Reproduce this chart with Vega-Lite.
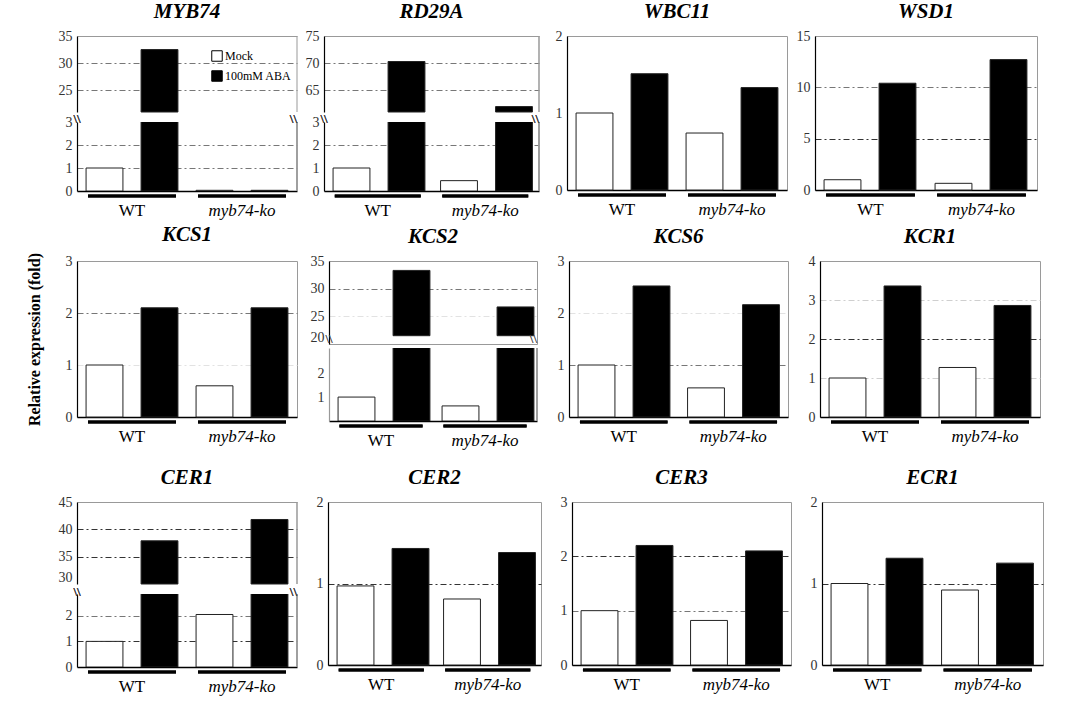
{
  "$schema": "https://vega.github.io/schema/vega-lite/v6.json",
  "background": "white",
  "padding": {"left": 25, "top": 0, "right": 5, "bottom": 5},
  "datasets": {
    "expr": [
      {"gene": "MYB74", "genotype": "WT", "treatment": "Mock", "value": 1.0},
      {"gene": "MYB74", "genotype": "WT", "treatment": "100mM ABA", "value": 32.5},
      {"gene": "MYB74", "genotype": "myb74-ko", "treatment": "Mock", "value": 0.03},
      {"gene": "MYB74", "genotype": "myb74-ko", "treatment": "100mM ABA", "value": 0.03},
      {"gene": "RD29A", "genotype": "WT", "treatment": "Mock", "value": 1.0},
      {"gene": "RD29A", "genotype": "WT", "treatment": "100mM ABA", "value": 70.3},
      {"gene": "RD29A", "genotype": "myb74-ko", "treatment": "Mock", "value": 0.45},
      {"gene": "RD29A", "genotype": "myb74-ko", "treatment": "100mM ABA", "value": 62.0},
      {"gene": "WBC11", "genotype": "WT", "treatment": "Mock", "value": 1.0},
      {"gene": "WBC11", "genotype": "WT", "treatment": "100mM ABA", "value": 1.51},
      {"gene": "WBC11", "genotype": "myb74-ko", "treatment": "Mock", "value": 0.74},
      {"gene": "WBC11", "genotype": "myb74-ko", "treatment": "100mM ABA", "value": 1.33},
      {"gene": "WSD1", "genotype": "WT", "treatment": "Mock", "value": 1.0},
      {"gene": "WSD1", "genotype": "WT", "treatment": "100mM ABA", "value": 10.4},
      {"gene": "WSD1", "genotype": "myb74-ko", "treatment": "Mock", "value": 0.65},
      {"gene": "WSD1", "genotype": "myb74-ko", "treatment": "100mM ABA", "value": 12.7},
      {"gene": "KCS1", "genotype": "WT", "treatment": "Mock", "value": 1.0},
      {"gene": "KCS1", "genotype": "WT", "treatment": "100mM ABA", "value": 2.1},
      {"gene": "KCS1", "genotype": "myb74-ko", "treatment": "Mock", "value": 0.6},
      {"gene": "KCS1", "genotype": "myb74-ko", "treatment": "100mM ABA", "value": 2.1},
      {"gene": "KCS2", "genotype": "WT", "treatment": "Mock", "value": 1.0},
      {"gene": "KCS2", "genotype": "WT", "treatment": "100mM ABA", "value": 33.3},
      {"gene": "KCS2", "genotype": "myb74-ko", "treatment": "Mock", "value": 0.63},
      {"gene": "KCS2", "genotype": "myb74-ko", "treatment": "100mM ABA", "value": 26.7},
      {"gene": "KCS6", "genotype": "WT", "treatment": "Mock", "value": 1.0},
      {"gene": "KCS6", "genotype": "WT", "treatment": "100mM ABA", "value": 2.52},
      {"gene": "KCS6", "genotype": "myb74-ko", "treatment": "Mock", "value": 0.56},
      {"gene": "KCS6", "genotype": "myb74-ko", "treatment": "100mM ABA", "value": 2.16},
      {"gene": "KCR1", "genotype": "WT", "treatment": "Mock", "value": 1.0},
      {"gene": "KCR1", "genotype": "WT", "treatment": "100mM ABA", "value": 3.36},
      {"gene": "KCR1", "genotype": "myb74-ko", "treatment": "Mock", "value": 1.27},
      {"gene": "KCR1", "genotype": "myb74-ko", "treatment": "100mM ABA", "value": 2.86},
      {"gene": "CER1", "genotype": "WT", "treatment": "Mock", "value": 1.0},
      {"gene": "CER1", "genotype": "WT", "treatment": "100mM ABA", "value": 37.9},
      {"gene": "CER1", "genotype": "myb74-ko", "treatment": "Mock", "value": 2.05},
      {"gene": "CER1", "genotype": "myb74-ko", "treatment": "100mM ABA", "value": 41.8},
      {"gene": "CER2", "genotype": "WT", "treatment": "Mock", "value": 0.97},
      {"gene": "CER2", "genotype": "WT", "treatment": "100mM ABA", "value": 1.43},
      {"gene": "CER2", "genotype": "myb74-ko", "treatment": "Mock", "value": 0.81},
      {"gene": "CER2", "genotype": "myb74-ko", "treatment": "100mM ABA", "value": 1.38},
      {"gene": "CER3", "genotype": "WT", "treatment": "Mock", "value": 1.0},
      {"gene": "CER3", "genotype": "WT", "treatment": "100mM ABA", "value": 2.2},
      {"gene": "CER3", "genotype": "myb74-ko", "treatment": "Mock", "value": 0.82},
      {"gene": "CER3", "genotype": "myb74-ko", "treatment": "100mM ABA", "value": 2.1},
      {"gene": "ECR1", "genotype": "WT", "treatment": "Mock", "value": 1.0},
      {"gene": "ECR1", "genotype": "WT", "treatment": "100mM ABA", "value": 1.31},
      {"gene": "ECR1", "genotype": "myb74-ko", "treatment": "Mock", "value": 0.92},
      {"gene": "ECR1", "genotype": "myb74-ko", "treatment": "100mM ABA", "value": 1.25}
    ]
  },
  "spacing": 5,
  "resolve": {"scale": {"fill": "independent"}, "legend": {"fill": "independent"}},
  "vconcat": [
    {
      "spacing": 2,
      "resolve": {"scale": {"fill": "independent"}, "legend": {"fill": "independent"}},
      "hconcat": [
        {
          "spacing": 0,
          "resolve": {"scale": {"fill": "independent"}, "legend": {"fill": "independent"}},
          "vconcat": [
            {
              "title": "MYB74", "width": 220, "height": 76, "view": {"stroke": null},
              "data": {"name": "expr"},
              "transform": [{"filter": "datum.gene == 'MYB74' && datum.value > 21"}],
              "encoding": {"x": {"field": "genotype", "type": "nominal", "scale": {"domain": ["WT", "myb74-ko"], "paddingInner": 0, "paddingOuter": 0}, "axis": {"orient": "top", "title": null, "labels": false, "domainColor": "#999", "domainWidth": 1}}},
              "layer": [
                {"mark": {"type": "bar", "stroke": "#222", "strokeWidth": 1},
                 "encoding": {
                   "xOffset": {"field": "treatment", "type": "nominal", "scale": {"domain": ["Mock", "100mM ABA"], "paddingInner": 0.33, "paddingOuter": 0.165}},
                   "y": {"field": "value", "type": "quantitative", "scale": {"domain": [21, 35], "nice": false, "zero": false}, "axis": {"title": " ", "values": [25, 30, 35], "grid": true, "gridColor": "#777", "gridOpacity": {"condition": {"test": "datum.value == 35", "value": 0}, "value": 1}}},
                   "y2": {"datum": 21},
                   "fill": {"field": "treatment", "type": "nominal", "scale": {"domain": ["Mock", "100mM ABA"], "range": ["white", "black"]}, "legend": {"orient": "none", "legendX": 134, "legendY": 14, "title": null, "labelFontSize": 12, "labelFont": "Liberation Serif", "labelColor": "black", "symbolType": "square", "symbolSize": 110, "symbolStrokeColor": "black", "symbolStrokeWidth": 1, "rowPadding": 4, "labelOffset": 2}}
                 }},
                {"mark": {"type": "rule", "color": "#999", "strokeWidth": 1}, "encoding": {"x": {"datum": "myb74-ko", "type": "nominal", "bandPosition": 1}, "y": {"datum": 21}, "y2": {"datum": 35}}}
              ]
            },
            {
              "width": 220, "height": 69, "view": {"stroke": null},
              "data": {"name": "expr"},
              "transform": [{"filter": "datum.gene == 'MYB74'"}],
              "encoding": {"x": {"field": "genotype", "type": "nominal", "scale": {"domain": ["WT", "myb74-ko"], "paddingInner": 0, "paddingOuter": 0}, "axis": {"title": null, "labelFontStyle": {"condition": {"test": "datum.value == 'myb74-ko'", "value": "italic"}, "value": "normal"}}}},
              "layer": [
                {"mark": {"type": "bar", "stroke": "#222", "strokeWidth": 1, "clip": true},
                 "encoding": {
                   "xOffset": {"field": "treatment", "type": "nominal", "scale": {"domain": ["Mock", "100mM ABA"], "paddingInner": 0.33, "paddingOuter": 0.165}},
                   "y": {"field": "value", "type": "quantitative", "scale": {"domain": [0, 3], "nice": false}, "axis": {"title": " ", "values": [0, 1, 2, 3], "grid": true, "gridColor": "#777", "gridOpacity": {"condition": {"test": "datum.value == 0 || datum.value == 3", "value": 0}, "value": 1}}},
                   "fill": {"condition": {"test": "datum.treatment == 'Mock'", "value": "white"}, "value": "black"}
                 }},
                {"mark": {"type": "bar", "color": "black", "width": {"band": 0.8}}, "encoding": {"y": {"datum": -0.15}, "y2": {"datum": -0.28}}},
                {"mark": {"type": "rule", "color": "#999", "strokeWidth": 1}, "encoding": {"x": {"datum": "myb74-ko", "type": "nominal", "bandPosition": 1}, "y": {"datum": 0}, "y2": {"datum": 3}}},
                {"mark": {"type": "text", "text": "\\\\", "fontSize": 13, "color": "#444", "baseline": "middle", "align": "center"}, "encoding": {"x": {"datum": "WT", "type": "nominal", "bandPosition": 0}, "y": {"datum": 3.12}}},
                {"mark": {"type": "text", "text": "\\\\", "fontSize": 13, "color": "#444", "baseline": "middle", "align": "right"}, "encoding": {"x": {"datum": "myb74-ko", "type": "nominal", "bandPosition": 1}, "y": {"datum": 3.12}}}
              ]
            }
          ]
        },
        {
          "spacing": 0,
          "vconcat": [
            {
              "title": "RD29A", "width": 215, "height": 76, "view": {"stroke": null},
              "data": {"name": "expr"},
              "transform": [{"filter": "datum.gene == 'RD29A' && datum.value > 61"}],
              "encoding": {"x": {"field": "genotype", "type": "nominal", "scale": {"domain": ["WT", "myb74-ko"], "paddingInner": 0, "paddingOuter": 0}, "axis": {"orient": "top", "title": null, "labels": false, "domainColor": "#999", "domainWidth": 1}}},
              "layer": [
                {"mark": {"type": "bar", "stroke": "#222", "strokeWidth": 1},
                 "encoding": {
                   "xOffset": {"field": "treatment", "type": "nominal", "scale": {"domain": ["Mock", "100mM ABA"], "paddingInner": 0.33, "paddingOuter": 0.165}},
                   "y": {"field": "value", "type": "quantitative", "scale": {"domain": [61, 75], "nice": false, "zero": false}, "axis": {"title": null, "values": [65, 70, 75], "grid": true, "gridColor": "#777", "gridOpacity": {"condition": {"test": "datum.value == 75", "value": 0}, "value": 1}}},
                   "y2": {"datum": 61},
                   "fill": {"condition": {"test": "datum.treatment == 'Mock'", "value": "white"}, "value": "black"}
                 }},
                {"mark": {"type": "rule", "color": "#999", "strokeWidth": 1}, "encoding": {"x": {"datum": "myb74-ko", "type": "nominal", "bandPosition": 1}, "y": {"datum": 61}, "y2": {"datum": 75}}}
              ]
            },
            {
              "width": 215, "height": 69, "view": {"stroke": null},
              "data": {"name": "expr"},
              "transform": [{"filter": "datum.gene == 'RD29A'"}],
              "encoding": {"x": {"field": "genotype", "type": "nominal", "scale": {"domain": ["WT", "myb74-ko"], "paddingInner": 0, "paddingOuter": 0}, "axis": {"title": null, "labelFontStyle": {"condition": {"test": "datum.value == 'myb74-ko'", "value": "italic"}, "value": "normal"}}}},
              "layer": [
                {"mark": {"type": "bar", "stroke": "#222", "strokeWidth": 1, "clip": true},
                 "encoding": {
                   "xOffset": {"field": "treatment", "type": "nominal", "scale": {"domain": ["Mock", "100mM ABA"], "paddingInner": 0.33, "paddingOuter": 0.165}},
                   "y": {"field": "value", "type": "quantitative", "scale": {"domain": [0, 3], "nice": false}, "axis": {"title": null, "values": [0, 1, 2, 3], "grid": true, "gridColor": "#777", "gridOpacity": {"condition": {"test": "datum.value != 2", "value": 0}, "value": 1}}},
                   "fill": {"condition": {"test": "datum.treatment == 'Mock'", "value": "white"}, "value": "black"}
                 }},
                {"mark": {"type": "bar", "color": "black", "width": {"band": 0.8}}, "encoding": {"y": {"datum": -0.15}, "y2": {"datum": -0.28}}},
                {"mark": {"type": "rule", "color": "#999", "strokeWidth": 1}, "encoding": {"x": {"datum": "myb74-ko", "type": "nominal", "bandPosition": 1}, "y": {"datum": 0}, "y2": {"datum": 3}}},
                {"mark": {"type": "text", "text": "\\\\", "fontSize": 13, "color": "#444", "baseline": "middle", "align": "center"}, "encoding": {"x": {"datum": "WT", "type": "nominal", "bandPosition": 0}, "y": {"datum": 3.12}}},
                {"mark": {"type": "text", "text": "\\\\", "fontSize": 13, "color": "#444", "baseline": "middle", "align": "right"}, "encoding": {"x": {"datum": "myb74-ko", "type": "nominal", "bandPosition": 1}, "y": {"datum": 3.12}}}
              ]
            }
          ]
        },
        {
          "vconcat": [{
            "title": "WBC11", "width": 220, "height": 154,
            "data": {"name": "expr"},
            "transform": [{"filter": "datum.gene == 'WBC11'"}],
            "encoding": {"x": {"field": "genotype", "type": "nominal", "scale": {"domain": ["WT", "myb74-ko"], "paddingInner": 0, "paddingOuter": 0}, "axis": {"title": null, "labelFontStyle": {"condition": {"test": "datum.value == 'myb74-ko'", "value": "italic"}, "value": "normal"}}}},
            "layer": [
              {"mark": {"type": "bar", "stroke": "#222", "strokeWidth": 1},
               "encoding": {
                 "xOffset": {"field": "treatment", "type": "nominal", "scale": {"domain": ["Mock", "100mM ABA"], "paddingInner": 0.33, "paddingOuter": 0.165}},
                 "y": {"field": "value", "type": "quantitative", "scale": {"domain": [0, 2], "nice": false}, "axis": {"title": null, "values": [0, 1, 2], "tickCount": 5}},
                 "fill": {"condition": {"test": "datum.treatment == 'Mock'", "value": "white"}, "value": "black"}
               }},
              {"mark": {"type": "bar", "color": "black", "width": {"band": 0.8}}, "encoding": {"y": {"datum": -0.045}, "y2": {"datum": -0.084}}}
            ]
          }]
        },
        {
          "vconcat": [{
            "title": "WSD1", "width": 222, "height": 154,
            "data": {"name": "expr"},
            "transform": [{"filter": "datum.gene == 'WSD1'"}],
            "encoding": {"x": {"field": "genotype", "type": "nominal", "scale": {"domain": ["WT", "myb74-ko"], "paddingInner": 0, "paddingOuter": 0}, "axis": {"title": null, "labelFontStyle": {"condition": {"test": "datum.value == 'myb74-ko'", "value": "italic"}, "value": "normal"}}}},
            "layer": [
              {"mark": {"type": "bar", "stroke": "#222", "strokeWidth": 1},
               "encoding": {
                 "xOffset": {"field": "treatment", "type": "nominal", "scale": {"domain": ["Mock", "100mM ABA"], "paddingInner": 0.33, "paddingOuter": 0.165}},
                 "y": {"field": "value", "type": "quantitative", "scale": {"domain": [0, 15], "nice": false}, "axis": {"title": null, "values": [0, 5, 10, 15], "grid": true, "gridColor": {"condition": {"test": "datum.value == 5", "value": "#333"}, "value": "#777"}, "gridOpacity": {"condition": {"test": "datum.value == 0 || datum.value == 15", "value": 0}, "value": 1}}},
                 "fill": {"condition": {"test": "datum.treatment == 'Mock'", "value": "white"}, "value": "black"}
               }},
              {"mark": {"type": "bar", "color": "black", "width": {"band": 0.8}}, "encoding": {"y": {"datum": -0.34}, "y2": {"datum": -0.63}}}
            ]
          }]
        }
      ]
    },
    {
      "spacing": 18,
      "vconcat": [
        {
          "spacing": 6,
          "hconcat": [
            {
              "vconcat": [{
                "title": "KCS1", "width": 220, "height": 156,
                "data": {"name": "expr"},
                "transform": [{"filter": "datum.gene == 'KCS1'"}],
                "encoding": {"x": {"field": "genotype", "type": "nominal", "scale": {"domain": ["WT", "myb74-ko"], "paddingInner": 0, "paddingOuter": 0}, "axis": {"title": null, "labelFontStyle": {"condition": {"test": "datum.value == 'myb74-ko'", "value": "italic"}, "value": "normal"}}}},
                "layer": [
                  {"mark": {"type": "bar", "stroke": "#222", "strokeWidth": 1},
                   "encoding": {
                     "xOffset": {"field": "treatment", "type": "nominal", "scale": {"domain": ["Mock", "100mM ABA"], "paddingInner": 0.33, "paddingOuter": 0.165}},
                     "y": {"field": "value", "type": "quantitative", "scale": {"domain": [0, 3], "nice": false}, "axis": {"title": "Relative expression (fold)", "values": [0, 1, 2, 3], "grid": true, "gridColor": {"condition": {"test": "datum.value == 1", "value": "#e2e2e2"}, "value": "#777"}, "gridOpacity": {"condition": {"test": "datum.value == 0 || datum.value == 3", "value": 0}, "value": 1}}},
                     "fill": {"condition": {"test": "datum.treatment == 'Mock'", "value": "white"}, "value": "black"}
                   }},
                  {"mark": {"type": "bar", "color": "black", "width": {"band": 0.8}}, "encoding": {"y": {"datum": -0.067}, "y2": {"datum": -0.125}}}
                ]
              }]
            },
            {
              "spacing": 0,
              "vconcat": [
                {
                  "title": "KCS2", "width": 208, "height": 83, "view": {"stroke": "#999"},
                  "data": {"name": "expr"},
                  "transform": [{"filter": "datum.gene == 'KCS2' && datum.value > 21.5"}],
                  "encoding": {"x": {"field": "genotype", "type": "nominal", "scale": {"domain": ["WT", "myb74-ko"], "paddingInner": 0, "paddingOuter": 0}, "axis": null}},
                  "layer": [
                    {"mark": {"type": "bar", "stroke": "#222", "strokeWidth": 1},
                     "encoding": {
                       "xOffset": {"field": "treatment", "type": "nominal", "scale": {"domain": ["Mock", "100mM ABA"], "paddingInner": 0.33, "paddingOuter": 0.165}},
                       "y": {"field": "value", "type": "quantitative", "scale": {"domain": [20, 35], "nice": false, "zero": false}, "axis": {"title": null, "values": [20, 25, 30, 35], "labelBaseline": {"condition": {"test": "datum.value == 20", "value": "bottom"}, "value": "middle"}, "grid": true, "gridColor": {"condition": {"test": "datum.value == 25", "value": "#e2e2e2"}, "value": "#777"}, "gridOpacity": {"condition": {"test": "datum.value == 20 || datum.value == 35", "value": 0}, "value": 1}}},
                       "y2": {"datum": 21.5},
                       "fill": {"condition": {"test": "datum.treatment == 'Mock'", "value": "white"}, "value": "black"}
                     }},
                    {"mark": {"type": "text", "text": "\\\\", "fontSize": 13, "color": "#444", "baseline": "middle", "align": "center"}, "encoding": {"x": {"datum": "WT", "type": "nominal", "bandPosition": 0}, "y": {"datum": 20.9}}},
                    {"mark": {"type": "text", "text": "\\\\", "fontSize": 13, "color": "#444", "baseline": "middle", "align": "right"}, "encoding": {"x": {"datum": "myb74-ko", "type": "nominal", "bandPosition": 1}, "y": {"datum": 20.9}}}
                  ]
                },
                {
                  "width": 208, "height": 73, "view": {"stroke": null},
                  "data": {"name": "expr"},
                  "transform": [{"filter": "datum.gene == 'KCS2'"}],
                  "encoding": {"x": {"field": "genotype", "type": "nominal", "scale": {"domain": ["WT", "myb74-ko"], "paddingInner": 0, "paddingOuter": 0}, "axis": {"title": null, "labelFontStyle": {"condition": {"test": "datum.value == 'myb74-ko'", "value": "italic"}, "value": "normal"}}}},
                  "layer": [
                    {"mark": {"type": "bar", "stroke": "#222", "strokeWidth": 1, "clip": true},
                     "encoding": {
                       "xOffset": {"field": "treatment", "type": "nominal", "scale": {"domain": ["Mock", "100mM ABA"], "paddingInner": 0.33, "paddingOuter": 0.165}},
                       "y": {"field": "value", "type": "quantitative", "scale": {"domain": [0, 3.05], "nice": false}, "axis": {"title": null, "values": [1, 2], "domainColor": "#999"}},
                       "fill": {"condition": {"test": "datum.treatment == 'Mock'", "value": "white"}, "value": "black"}
                     }},
                    {"mark": {"type": "bar", "color": "black", "width": {"band": 0.8}}, "encoding": {"y": {"datum": -0.146}, "y2": {"datum": -0.272}}},
                    {"mark": {"type": "rule", "color": "#999", "strokeWidth": 1}, "encoding": {"x": {"datum": "myb74-ko", "type": "nominal", "bandPosition": 1}, "y": {"datum": 0}, "y2": {"datum": 3.05}}}
                  ]
                }
              ]
            },
            {
              "vconcat": [{
                "title": "KCS6", "width": 219, "height": 156,
                "data": {"name": "expr"},
                "transform": [{"filter": "datum.gene == 'KCS6'"}],
                "encoding": {"x": {"field": "genotype", "type": "nominal", "scale": {"domain": ["WT", "myb74-ko"], "paddingInner": 0, "paddingOuter": 0}, "axis": {"title": null, "labelFontStyle": {"condition": {"test": "datum.value == 'myb74-ko'", "value": "italic"}, "value": "normal"}}}},
                "layer": [
                  {"mark": {"type": "bar", "stroke": "#222", "strokeWidth": 1},
                   "encoding": {
                     "xOffset": {"field": "treatment", "type": "nominal", "scale": {"domain": ["Mock", "100mM ABA"], "paddingInner": 0.33, "paddingOuter": 0.165}},
                     "y": {"field": "value", "type": "quantitative", "scale": {"domain": [0, 3], "nice": false}, "axis": {"title": null, "values": [0, 1, 2, 3], "grid": true, "gridColor": {"condition": {"test": "datum.value == 2", "value": "#e2e2e2"}, "value": "#777"}, "gridOpacity": {"condition": {"test": "datum.value == 0 || datum.value == 3", "value": 0}, "value": 1}}},
                     "fill": {"condition": {"test": "datum.treatment == 'Mock'", "value": "white"}, "value": "black"}
                   }},
                  {"mark": {"type": "bar", "color": "black", "width": {"band": 0.8}}, "encoding": {"y": {"datum": -0.067}, "y2": {"datum": -0.125}}}
                ]
              }]
            },
            {
              "vconcat": [{
                "title": "KCR1", "width": 220, "height": 156,
                "data": {"name": "expr"},
                "transform": [{"filter": "datum.gene == 'KCR1'"}],
                "encoding": {"x": {"field": "genotype", "type": "nominal", "scale": {"domain": ["WT", "myb74-ko"], "paddingInner": 0, "paddingOuter": 0}, "axis": {"title": null, "labelFontStyle": {"condition": {"test": "datum.value == 'myb74-ko'", "value": "italic"}, "value": "normal"}}}},
                "layer": [
                  {"mark": {"type": "bar", "stroke": "#222", "strokeWidth": 1},
                   "encoding": {
                     "xOffset": {"field": "treatment", "type": "nominal", "scale": {"domain": ["Mock", "100mM ABA"], "paddingInner": 0.33, "paddingOuter": 0.165}},
                     "y": {"field": "value", "type": "quantitative", "scale": {"domain": [0, 4], "nice": false}, "axis": {"title": null, "values": [0, 1, 2, 3, 4], "grid": true, "gridColor": {"condition": {"test": "datum.value == 2", "value": "#333"}, "value": "#cfcfcf"}, "gridOpacity": {"condition": {"test": "datum.value == 0 || datum.value == 4", "value": 0}, "value": 1}}},
                     "fill": {"condition": {"test": "datum.treatment == 'Mock'", "value": "white"}, "value": "black"}
                   }},
                  {"mark": {"type": "bar", "color": "black", "width": {"band": 0.8}}, "encoding": {"y": {"datum": -0.09}, "y2": {"datum": -0.167}}}
                ]
              }]
            }
          ]
        },
        {
          "spacing": 5,
          "hconcat": [
            {
              "spacing": 0,
              "vconcat": [
                {
                  "title": "CER1", "width": 220, "height": 82, "view": {"stroke": null},
                  "data": {"name": "expr"},
                  "transform": [{"filter": "datum.gene == 'CER1' && datum.value > 30"}],
                  "encoding": {"x": {"field": "genotype", "type": "nominal", "scale": {"domain": ["WT", "myb74-ko"], "paddingInner": 0, "paddingOuter": 0}, "axis": {"orient": "top", "title": null, "labels": false, "domainColor": "#999", "domainWidth": 1}}},
                  "layer": [
                    {"mark": {"type": "bar", "stroke": "#222", "strokeWidth": 1},
                     "encoding": {
                       "xOffset": {"field": "treatment", "type": "nominal", "scale": {"domain": ["Mock", "100mM ABA"], "paddingInner": 0.33, "paddingOuter": 0.165}},
                       "y": {"field": "value", "type": "quantitative", "scale": {"domain": [30, 45], "nice": false, "zero": false}, "axis": {"title": " ", "values": [30, 35, 40, 45], "labelBaseline": {"condition": {"test": "datum.value == 30", "value": "bottom"}, "value": "middle"}, "grid": true, "gridColor": "#333", "gridOpacity": {"condition": {"test": "datum.value == 30 || datum.value == 45", "value": 0}, "value": 1}}},
                       "y2": {"datum": 30},
                       "fill": {"condition": {"test": "datum.treatment == 'Mock'", "value": "white"}, "value": "black"}
                     }},
                    {"mark": {"type": "rule", "color": "#999", "strokeWidth": 1}, "encoding": {"x": {"datum": "myb74-ko", "type": "nominal", "bandPosition": 1}, "y": {"datum": 30}, "y2": {"datum": 45}}}
                  ]
                },
                {
                  "width": 220, "height": 73, "view": {"stroke": null},
                  "data": {"name": "expr"},
                  "transform": [{"filter": "datum.gene == 'CER1'"}],
                  "encoding": {"x": {"field": "genotype", "type": "nominal", "scale": {"domain": ["WT", "myb74-ko"], "paddingInner": 0, "paddingOuter": 0}, "axis": {"title": null, "labelFontStyle": {"condition": {"test": "datum.value == 'myb74-ko'", "value": "italic"}, "value": "normal"}}}},
                  "layer": [
                    {"mark": {"type": "bar", "stroke": "#222", "strokeWidth": 1, "clip": true},
                     "encoding": {
                       "xOffset": {"field": "treatment", "type": "nominal", "scale": {"domain": ["Mock", "100mM ABA"], "paddingInner": 0.33, "paddingOuter": 0.165}},
                       "y": {"field": "value", "type": "quantitative", "scale": {"domain": [0, 2.85], "nice": false}, "axis": {"title": " ", "values": [0, 1, 2], "grid": true, "gridColor": {"condition": {"test": "datum.value == 1", "value": "#333"}, "value": "#777"}, "gridOpacity": {"condition": {"test": "datum.value == 0", "value": 0}, "value": 1}}},
                       "fill": {"condition": {"test": "datum.treatment == 'Mock'", "value": "white"}, "value": "black"}
                     }},
                    {"mark": {"type": "bar", "color": "black", "width": {"band": 0.8}}, "encoding": {"y": {"datum": -0.137}, "y2": {"datum": -0.254}}},
                    {"mark": {"type": "rule", "color": "#999", "strokeWidth": 1}, "encoding": {"x": {"datum": "myb74-ko", "type": "nominal", "bandPosition": 1}, "y": {"datum": 0}, "y2": {"datum": 2.85}}},
                    {"mark": {"type": "text", "text": "\\\\", "fontSize": 13, "color": "#444", "baseline": "middle", "align": "center"}, "encoding": {"x": {"datum": "WT", "type": "nominal", "bandPosition": 0}, "y": {"datum": 2.93}}},
                    {"mark": {"type": "text", "text": "\\\\", "fontSize": 13, "color": "#444", "baseline": "middle", "align": "right"}, "encoding": {"x": {"datum": "myb74-ko", "type": "nominal", "bandPosition": 1}, "y": {"datum": 2.93}}}
                  ]
                }
              ]
            },
            {
              "vconcat": [{
                "title": "CER2", "width": 213, "height": 163,
                "data": {"name": "expr"},
                "transform": [{"filter": "datum.gene == 'CER2'"}],
                "encoding": {"x": {"field": "genotype", "type": "nominal", "scale": {"domain": ["WT", "myb74-ko"], "paddingInner": 0, "paddingOuter": 0}, "axis": {"title": null, "labelFontStyle": {"condition": {"test": "datum.value == 'myb74-ko'", "value": "italic"}, "value": "normal"}}}},
                "layer": [
                  {"mark": {"type": "bar", "stroke": "#222", "strokeWidth": 1},
                   "encoding": {
                     "xOffset": {"field": "treatment", "type": "nominal", "scale": {"domain": ["Mock", "100mM ABA"], "paddingInner": 0.33, "paddingOuter": 0.165}},
                     "y": {"field": "value", "type": "quantitative", "scale": {"domain": [0, 2], "nice": false}, "axis": {"title": null, "values": [0, 1, 2], "tickCount": 5, "grid": true, "gridColor": "#333", "gridOpacity": {"condition": {"test": "datum.value != 1", "value": 0}, "value": 1}}},
                     "fill": {"condition": {"test": "datum.treatment == 'Mock'", "value": "white"}, "value": "black"}
                   }},
                  {"mark": {"type": "bar", "color": "black", "width": {"band": 0.8}}, "encoding": {"y": {"datum": -0.043}, "y2": {"datum": -0.08}}}
                ]
              }]
            },
            {
              "vconcat": [{
                "title": "CER3", "width": 219, "height": 163,
                "data": {"name": "expr"},
                "transform": [{"filter": "datum.gene == 'CER3'"}],
                "encoding": {"x": {"field": "genotype", "type": "nominal", "scale": {"domain": ["WT", "myb74-ko"], "paddingInner": 0, "paddingOuter": 0}, "axis": {"title": null, "labelFontStyle": {"condition": {"test": "datum.value == 'myb74-ko'", "value": "italic"}, "value": "normal"}}}},
                "layer": [
                  {"mark": {"type": "bar", "stroke": "#222", "strokeWidth": 1},
                   "encoding": {
                     "xOffset": {"field": "treatment", "type": "nominal", "scale": {"domain": ["Mock", "100mM ABA"], "paddingInner": 0.33, "paddingOuter": 0.165}},
                     "y": {"field": "value", "type": "quantitative", "scale": {"domain": [0, 3], "nice": false}, "axis": {"title": null, "values": [0, 1, 2, 3], "grid": true, "gridColor": {"condition": {"test": "datum.value == 2", "value": "#333"}, "value": "#777"}, "gridOpacity": {"condition": {"test": "datum.value == 0 || datum.value == 3", "value": 0}, "value": 1}}},
                     "fill": {"condition": {"test": "datum.treatment == 'Mock'", "value": "white"}, "value": "black"}
                   }},
                  {"mark": {"type": "bar", "color": "black", "width": {"band": 0.8}}, "encoding": {"y": {"datum": -0.064}, "y2": {"datum": -0.12}}}
                ]
              }]
            },
            {
              "vconcat": [{
                "title": "ECR1", "width": 221, "height": 163,
                "data": {"name": "expr"},
                "transform": [{"filter": "datum.gene == 'ECR1'"}],
                "encoding": {"x": {"field": "genotype", "type": "nominal", "scale": {"domain": ["WT", "myb74-ko"], "paddingInner": 0, "paddingOuter": 0}, "axis": {"title": null, "labelFontStyle": {"condition": {"test": "datum.value == 'myb74-ko'", "value": "italic"}, "value": "normal"}}}},
                "layer": [
                  {"mark": {"type": "bar", "stroke": "#222", "strokeWidth": 1},
                   "encoding": {
                     "xOffset": {"field": "treatment", "type": "nominal", "scale": {"domain": ["Mock", "100mM ABA"], "paddingInner": 0.33, "paddingOuter": 0.165}},
                     "y": {"field": "value", "type": "quantitative", "scale": {"domain": [0, 2], "nice": false}, "axis": {"title": null, "values": [0, 1, 2], "tickCount": 5, "grid": true, "gridColor": "#333", "gridOpacity": {"condition": {"test": "datum.value != 1", "value": 0}, "value": 1}}},
                     "fill": {"condition": {"test": "datum.treatment == 'Mock'", "value": "white"}, "value": "black"}
                   }},
                  {"mark": {"type": "bar", "color": "black", "width": {"band": 0.8}}, "encoding": {"y": {"datum": -0.043}, "y2": {"datum": -0.08}}}
                ]
              }]
            }
          ]
        }
      ]
    }
  ],
  "config": {
    "font": "Liberation Serif",
    "view": {"stroke": "#9a9a9a", "strokeWidth": 1},
    "title": {"font": "Liberation Serif", "fontSize": 21, "fontStyle": "italic", "fontWeight": "bold", "color": "black", "offset": 7, "anchor": "middle"},
    "axis": {"labelFont": "Liberation Serif", "titleFont": "Liberation Serif", "ticks": false, "tickSize": 0, "grid": false, "domainColor": "black"},
    "axisX": {"labelAngle": 0, "labelFontSize": 17, "labelColor": "black", "labelPadding": 11, "domainWidth": 1.5},
    "axisY": {"labelFontSize": 14, "labelColor": "#333", "labelPadding": 5, "labelOverlap": false, "labelExpr": "datum.value", "tickCount": 20, "minExtent": 24, "maxExtent": 24, "domainWidth": 1.2, "gridDash": [6, 3, 2, 3], "gridWidth": 1, "titleFontSize": 16, "titleFontWeight": "bold", "titleColor": "black", "titlePadding": 11},
    "legend": {"labelFont": "Liberation Serif"}
  }
}
